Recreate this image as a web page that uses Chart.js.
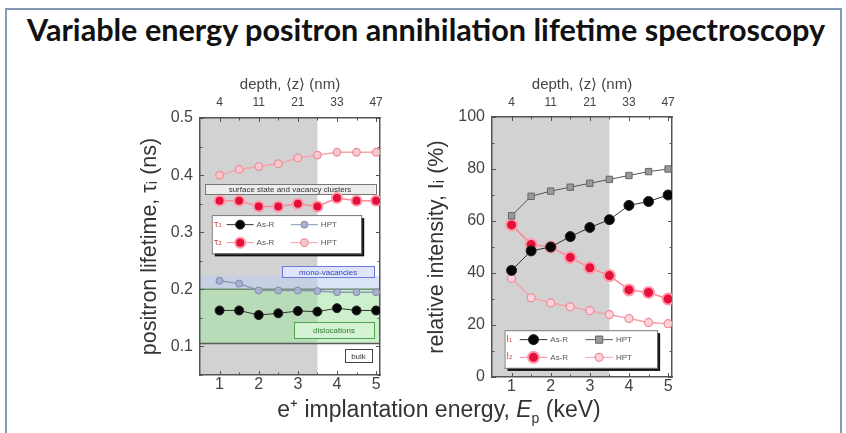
<!DOCTYPE html>
<html><head><meta charset="utf-8">
<script src="https://cdn.jsdelivr.net/npm/chart.js@4.4.0/dist/chart.umd.min.js"></script>
<style>
html,body{margin:0;padding:0;background:#fff;width:846px;height:433px;overflow:hidden;font-family:"Liberation Sans",Arial,sans-serif;}
#frame{position:absolute;left:5px;top:8px;width:837px;height:440px;border:2px solid #8499b3;border-bottom:none;box-sizing:border-box;}
#title{position:absolute;left:27px;top:11px;font:bold 30.6px Lato,"Open Sans",sans-serif;color:#111;white-space:nowrap;}
#c1{position:absolute;left:130px;top:60px;}
#c2{position:absolute;left:420px;top:60px;}
#xtitle{position:absolute;left:0;width:878px;text-align:center;top:395px;font-size:23px;color:#333;line-height:28px;}
</style></head>
<body>
<div id="frame"></div>
<div id="title">Variable energy positron annihilation lifetime spectroscopy</div>
<canvas id="c1" width="270" height="335"></canvas>
<canvas id="c2" width="272" height="337"></canvas>
<div id="xtitle">e⁺ implantation energy, <i>E</i><sub style="font-size:14px">p</sub> (keV)</div>
<script>
// ---- data ----
const energy = [1, 1.5, 2, 2.5, 3, 3.5, 4, 4.5, 5];
const energyTicks = [1, 2, 3, 4, 5];
const depthLabels = ['4', '11', '21', '33', '47'];
const lifetimeTicks = [0.1, 0.2, 0.3, 0.4, 0.5];
const intensityTicks = [0, 20, 40, 60, 80, 100];

const tau1AsR = [0.163, 0.163, 0.155, 0.158, 0.162, 0.161, 0.167, 0.163, 0.163];
const tau1HPT = [0.215, 0.210, 0.198, 0.198, 0.198, 0.197, 0.195, 0.195, 0.195];
const tau2AsR = [0.355, 0.355, 0.345, 0.345, 0.350, 0.345, 0.360, 0.355, 0.355];
const tau2HPT = [0.400, 0.410, 0.415, 0.420, 0.430, 0.435, 0.440, 0.440, 0.440];

const int1AsR = [41, 48.5, 50, 54, 57.5, 60.5, 66, 67.5, 70];
const int1HPT = [62, 69.5, 71.5, 73, 74.5, 76, 77.5, 79, 80];
const int2AsR = [58.5, 51, 50, 46, 42, 39, 33.5, 32.5, 30];
const int2HPT = [38, 30.5, 28.5, 27, 25.5, 24, 22.5, 21, 20.5];

const seriesLabels = ['As-R', 'HPT'];
const shadeEnd = 3.5;   // near-surface shaded energy range ends here
const annotationTexts = ['surface state and vacancy clusters', 'mono-vacancies', 'dislocations', 'bulk'];

Chart.defaults.font.family = '"Liberation Sans", Arial, sans-serif';
Chart.defaults.color = '#444';

const pts = arr => energy.map((e, i) => ({x: e, y: arr[i]}));

function drawMarker(ctx, ds, x, y) {
  const r = ds.pointRadius || 3;
  ctx.save();
  ctx.fillStyle = ds.pointBackgroundColor;
  ctx.strokeStyle = ds.pointBorderColor;
  ctx.lineWidth = ds.pointBorderWidth || 1;
  ctx.beginPath();
  if (ds.pointStyle === 'rect') ctx.rect(x - r * 0.8, y - r * 0.8, r * 1.6, r * 1.6);
  else ctx.arc(x, y, r, 0, Math.PI * 2);
  ctx.fill(); ctx.stroke();
  ctx.restore();
}

const decor = {
  id: 'decor',
  beforeDraw(chart, args, o) {
    const {ctx, chartArea: a, scales: {x, y}} = chart;
    ctx.save();
    ctx.fillStyle = '#d2d2d2';
    const sx = x.getPixelForValue(o.shade);
    ctx.fillRect(a.left, a.top, sx - a.left, a.bottom - a.top);
    (o.bands || []).forEach(b => {
      ctx.fillStyle = b.color;
      const t = y.getPixelForValue(b.y1), bt = y.getPixelForValue(b.y0);
      ctx.fillRect(a.left, t, a.right - a.left, bt - t);
    });
    (o.lines || []).forEach(l => {
      ctx.strokeStyle = l.color; ctx.lineWidth = 1.5;
      const py = y.getPixelForValue(l.y);
      ctx.beginPath(); ctx.moveTo(a.left, py); ctx.lineTo(a.right, py); ctx.stroke();
    });
    ctx.restore();
  },
  beforeDatasetsDraw(chart, args, o) {
    const {ctx, chartArea: a, scales: {x, y}} = chart;
    ctx.save();
    // inward tick marks
    ctx.strokeStyle = '#555'; ctx.lineWidth = 1;
    const xs = [];
    for (let v = 1; v <= 5.001; v += 0.5) xs.push(v);
    xs.forEach(v => {
      const px = Math.round(x.getPixelForValue(v)) + 0.5;
      const len = Number.isInteger(v) ? 4 : 2.5;
      ctx.beginPath();
      ctx.moveTo(px, a.bottom); ctx.lineTo(px, a.bottom - len);
      ctx.moveTo(px, a.top); ctx.lineTo(px, a.top + len);
      ctx.stroke();
    });
    const yt = o.yTicks;
    const step = (yt[1] - yt[0]) / 2;
    for (let v = yt[0] - step; v <= yt[yt.length - 1] + 1e-9; v += step) {
      if (v < y.min - 1e-9) continue;
      const py = Math.round(y.getPixelForValue(v)) + 0.5;
      const major = yt.some(t => Math.abs(t - v) < 1e-6);
      const len = major ? 4 : 2.5;
      ctx.beginPath();
      ctx.moveTo(a.left, py); ctx.lineTo(a.left + len, py);
      ctx.moveTo(a.right, py); ctx.lineTo(a.right - len, py);
      ctx.stroke();
    }
    // annotation boxes
    (o.boxes || []).forEach(b => {
      const L = x.getPixelForValue(b.x0), R = x.getPixelForValue(b.x1);
      const T = y.getPixelForValue(b.y1), B = y.getPixelForValue(b.y0);
      ctx.fillStyle = b.fill; ctx.fillRect(L, T, R - L, B - T);
      ctx.strokeStyle = b.stroke; ctx.lineWidth = 1;
      ctx.strokeRect(Math.round(L) + 0.5, Math.round(T) + 0.5, Math.round(R - L), Math.round(B - T));
      ctx.fillStyle = b.textColor; ctx.font = b.font || '8px "Liberation Sans", Arial';
      ctx.textAlign = 'center'; ctx.textBaseline = 'middle';
      ctx.fillText(b.text, (L + R) / 2, (T + B) / 2 + 0.5);
    });
    ctx.restore();
  },
  afterDatasetsDraw(chart, args, o) {
    const g = o.legend; if (!g) return;
    const {ctx, scales: {x, y}} = chart;
    const L = x.getPixelForValue(g.box[0]), R = x.getPixelForValue(g.box[1]);
    const T = y.getPixelForValue(g.box[2]), B = y.getPixelForValue(g.box[3]);
    const W = R - L, H = B - T;
    ctx.save();
    ctx.fillStyle = '#111'; ctx.fillRect(L + 3, T + 3, W, H);
    ctx.fillStyle = '#fff'; ctx.fillRect(L, T, W, H);
    ctx.strokeStyle = '#777'; ctx.lineWidth = 1; ctx.strokeRect(L + 0.5, T + 0.5, W, H);
    ctx.textBaseline = 'middle';
    g.rows.forEach((row, r) => {
      const cy = T + H * (r === 0 ? 0.25 : 0.72);
      ctx.fillStyle = '#c44'; ctx.font = '8px "DejaVu Sans"'; ctx.textAlign = 'left';
      ctx.fillText(g.prefix[r], L + 2, cy);
      row.forEach((di, c) => {
        const ds = chart.data.datasets[di];
        const mx = L + W * (c === 0 ? 0.19 : 0.62);
        ctx.strokeStyle = ds.borderColor; ctx.lineWidth = 1;
        ctx.beginPath(); ctx.moveTo(mx - W * 0.09, cy); ctx.lineTo(mx + W * 0.09, cy); ctx.stroke();
        drawMarker(ctx, ds, mx, cy);
        ctx.fillStyle = '#555'; ctx.font = '8px "Liberation Sans", Arial';
        ctx.fillText(ds.label, mx + W * 0.11, cy);
      });
    });
    ctx.restore();
  }
};

function buildScales(cfg) {
  const ticksAt = arr => s => { s.ticks = arr.map(v => ({value: v})); };
  const noGrid = {display: false, drawTicks: false};
  const border = {display: true, color: '#555', width: 1.5};
  return {
    x: {type: 'linear', position: 'bottom', min: 0.5, max: 5.1,
        afterBuildTicks: ticksAt(energyTicks), afterFit: s => { s.height = 20; },
        grid: noGrid, border, ticks: {padding: 0, font: {size: 16}}},
    xTop: {type: 'linear', position: 'top', min: 0.5, max: 5.1,
        afterBuildTicks: ticksAt(energyTicks), afterFit: s => { s.height = cfg.topH; },
        grid: noGrid, border,
        ticks: {padding: cfg.topPad, font: {size: 12}, callback: (v, i) => depthLabels[i]},
        title: {display: true, text: 'depth, ⟨z⟩ (nm)', font: {size: 15}, padding: {top: 16, bottom: 0}}},
    y: {type: 'linear', position: 'left', min: cfg.yMin, max: cfg.yMax,
        afterBuildTicks: ticksAt(cfg.yTicks), afterFit: s => { s.width = cfg.yW; },
        grid: noGrid, border,
        ticks: {padding: 7, font: {size: 16}, callback: cfg.fmt},
        title: {display: true, text: cfg.yTitle, font: {size: 21.5}, color: '#333', padding: {top: cfg.yTitlePad, bottom: 0}}},
    yRight: {type: 'linear', position: 'right', min: cfg.yMin, max: cfg.yMax,
        afterFit: s => { s.width = 20; }, grid: noGrid, border, ticks: {display: false}}
  };
}

const common = {responsive: false, animation: false, layout: {padding: 0},
  plugins: {legend: {display: false}, tooltip: {enabled: false}}};

new Chart(document.getElementById('c1'), {
  type: 'line',
  data: {datasets: [
    {label: seriesLabels[0], data: pts(tau1AsR), borderColor: '#333', borderWidth: 1,
     pointRadius: 4.5, pointBackgroundColor: '#050505', pointBorderColor: '#222', pointBorderWidth: 1},
    {label: seriesLabels[1], data: pts(tau1HPT), borderColor: '#8d98b8', borderWidth: 1.5,
     pointRadius: 3.5, pointBackgroundColor: '#a8b2cf', pointBorderColor: '#7f8bad', pointBorderWidth: 1},
    {label: seriesLabels[0], data: pts(tau2AsR), borderColor: '#ff8797', borderWidth: 1.5,
     pointRadius: 5, pointBackgroundColor: '#e4103a', pointBorderColor: '#ff9aaa', pointBorderWidth: 2},
    {label: seriesLabels[1], data: pts(tau2HPT), borderColor: '#f5a3ad', borderWidth: 1.5,
     pointRadius: 3.8, pointBackgroundColor: '#f7c9ce', pointBorderColor: '#ef8b97', pointBorderWidth: 1.2}
  ]},
  options: {...common,
    scales: buildScales({yMin: 0.05, yMax: 0.5, yTicks: lifetimeTicks, yW: 70, topH: 58, topPad: 8,
      fmt: v => v.toFixed(1), yTitle: 'positron lifetime, τᵢ (ns)', yTitlePad: 7}),
    plugins: {...common.plugins, decor: {
      shade: shadeEnd, yTicks: lifetimeTicks,
      bands: [{y0: 0.105, y1: 0.2, color: 'rgba(160,228,160,0.55)'},
              {y0: 0.2, y1: 0.224, color: 'rgba(190,205,240,0.55)'}],
      lines: [{y: 0.2, color: '#6f8f70'}, {y: 0.105, color: '#5a5a5a'}],
      boxes: [
        {x0: 0.62, x1: 4.98, y0: 0.367, y1: 0.384, fill: '#ededed', stroke: '#777', textColor: '#333', text: annotationTexts[0]},
        {x0: 2.6, x1: 4.95, y0: 0.221, y1: 0.240, fill: '#dfe4ff', stroke: '#6a7bd8', textColor: '#3344aa', text: annotationTexts[1]},
        {x0: 2.9, x1: 4.95, y0: 0.114, y1: 0.142, fill: '#d4f2d4', stroke: '#4fa34f', textColor: '#2b7a2b', text: annotationTexts[2]},
        {x0: 4.2, x1: 4.9, y0: 0.072, y1: 0.095, fill: '#fff', stroke: '#444', textColor: '#333', text: annotationTexts[3]}
      ],
      legend: {box: [0.8, 4.62, 0.33, 0.263], rows: [[0, 1], [2, 3]], prefix: ['τ₁', 'τ₂']}
    }}
  },
  plugins: [decor]
});

new Chart(document.getElementById('c2'), {
  type: 'line',
  data: {datasets: [
    {label: seriesLabels[0], data: pts(int1AsR), borderColor: '#333', borderWidth: 1,
     pointRadius: 5, pointBackgroundColor: '#050505', pointBorderColor: '#222', pointBorderWidth: 1},
    {label: seriesLabels[1], data: pts(int1HPT), borderColor: '#555', borderWidth: 1,
     pointStyle: 'rect', pointRadius: 4.5, pointBackgroundColor: '#9a9a9a', pointBorderColor: '#666', pointBorderWidth: 1},
    {label: seriesLabels[0], data: pts(int2AsR), borderColor: '#ff8797', borderWidth: 1.5,
     pointRadius: 5.5, pointBackgroundColor: '#e4103a', pointBorderColor: '#ff9aaa', pointBorderWidth: 2},
    {label: seriesLabels[1], data: pts(int2HPT), borderColor: '#f5a3ad', borderWidth: 1.5,
     pointRadius: 4, pointBackgroundColor: '#fbd3d8', pointBorderColor: '#ef8b97', pointBorderWidth: 1.2}
  ]},
  options: {...common,
    scales: buildScales({yMin: 0, yMax: 100, yTicks: intensityTicks, yW: 72, topH: 57, topPad: 7,
      fmt: v => String(v), yTitle: 'relative intensity, Iᵢ (%)', yTitlePad: 4}),
    plugins: {...common.plugins, decor: {
      shade: shadeEnd, yTicks: intensityTicks,
      legend: {box: [0.82, 4.72, 18, 3.5], rows: [[0, 1], [2, 3]], prefix: ['I₁', 'I₂']}
    }}
  },
  plugins: [decor]
});
</script>
</body></html>
